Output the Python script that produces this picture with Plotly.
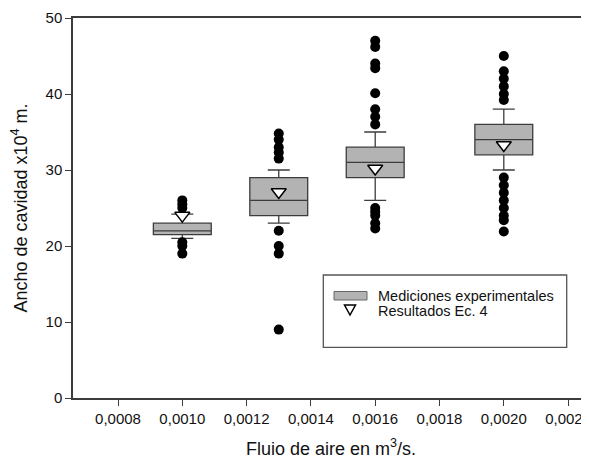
import plotly.graph_objects as go

# ---- data ----
categories = [0.0010, 0.0013, 0.0016, 0.0020]
q1 = [21.5, 24, 29, 32]
median = [22, 26, 31, 34]
q3 = [23, 29, 33, 36]
lower_whisker = [21, 23, 26, 30]
upper_whisker = [24.2, 30, 35, 38]
ec4 = [24.0, 27.1, 30.2, 33.3]
outliers = [
    [26, 25.5, 25, 20.5, 20, 19],
    [34.8, 34, 33, 32.3, 31.5, 22, 20, 19, 9],
    [47, 46.2, 44, 43.4, 40.1, 38, 37, 36, 25, 24.5, 24, 23, 22.3],
    [45, 43, 42, 41, 40, 39.2, 29, 28, 27, 26, 25, 24, 23.4, 21.9],
]
x_ticks = [0.0008, 0.0010, 0.0012, 0.0014, 0.0016, 0.0018, 0.0020, 0.0022]
y_ticks = [0, 10, 20, 30, 40, 50]
legend_labels = ["Mediciones experimentales", "Resultados Ec. 4"]

FONT = "Liberation Sans, Arial, sans-serif"
TXT = "#111111"
LINE = "#3c3c3c"
BOXFILL = "#b3b3b3"

out_x = [c for c, vals in zip(categories, outliers) for _ in vals]
out_y = [v for vals in outliers for v in vals]

fig = go.Figure()
fig.add_trace(go.Box(
    x=categories, q1=q1, median=median, q3=q3,
    lowerfence=lower_whisker, upperfence=upper_whisker,
    orientation="v", width=0.00018, whiskerwidth=0.38,
    fillcolor=BOXFILL, line=dict(color=LINE, width=1.3),
    boxpoints=False, showlegend=False, name=legend_labels[0],
))
fig.add_trace(go.Scatter(
    x=out_x, y=out_y, mode="markers",
    marker=dict(symbol="circle", size=10, color="black", line=dict(width=0)),
    showlegend=False, name="outliers",
))
fig.add_trace(go.Scatter(
    x=categories, y=ec4, mode="markers",
    marker=dict(symbol="triangle-down", size=13, color="white",
                line=dict(color="black", width=1.5)),
    showlegend=False, name=legend_labels[1],
))

# page body has an 8px margin, so the figure is drawn 8px smaller and
# all positions below are given in window pixels
OFF = 8
L, R, T, B = 73, 589, 18, 398
W, H = 589 - OFF, 459 - OFF


def px(xp):
    return (xp - L) / (R - L)


def py(yp):
    return (B - yp) / (B - T)


shapes = [
    dict(type="rect", xref="paper", yref="paper",
         x0=px(323.3), x1=px(566.7), y0=py(347.3), y1=py(275),
         line=dict(color="#555555", width=1.3), fillcolor="white", layer="above"),
    dict(type="rect", xref="paper", yref="paper",
         x0=px(334), x1=px(367), y0=py(300), y1=py(291.5),
         line=dict(color="#666666", width=1), fillcolor=BOXFILL, layer="above"),
    dict(type="path", xref="paper", yref="paper",
         path=f"M {px(344.5)},{py(305)} L {px(355.5)},{py(305)} L {px(350)},{py(315)} Z",
         line=dict(color="black", width=1.5), fillcolor="white", layer="above"),
]
annotations = [
    dict(xref="paper", yref="paper", x=px(376), y=py(295.5), xanchor="left",
         yanchor="middle", text=legend_labels[0], showarrow=False,
         font=dict(family=FONT, size=14.5, color=TXT)),
    dict(xref="paper", yref="paper", x=px(376), y=py(310.5), xanchor="left",
         yanchor="middle", text=legend_labels[1], showarrow=False,
         font=dict(family=FONT, size=14.5, color=TXT)),
]

fig.update_layout(
    width=W, height=H,
    margin=dict(l=L - OFF, r=0, t=T - OFF, b=H - (B - OFF), autoexpand=False),
    paper_bgcolor="white", plot_bgcolor="white",
    separators=",.",
    font=dict(family=FONT, color=TXT, size=15),
    showlegend=False,
    shapes=shapes, annotations=annotations,
    xaxis=dict(
        range=[0.00066, 0.002265], tickvals=x_ticks, tickformat=".4f",
        showgrid=False, zeroline=False, showline=True, linecolor=LINE,
        linewidth=1.5, mirror=True, ticks="outside", ticklen=6,
        tickwidth=1.2, tickcolor=LINE, tickfont=dict(size=15),
        ticklabeloverflow="allow",
        title=dict(text="Fluio de aire en m<sup>3</sup>/s.",
                   font=dict(size=18), standoff=18),
        automargin=False,
    ),
    yaxis=dict(
        range=[0, 50], tickvals=y_ticks,
        showgrid=False, zeroline=False, showline=True, linecolor=LINE,
        linewidth=1.5, ticks="outside", ticklen=6, tickwidth=1.2,
        tickcolor=LINE, tickfont=dict(size=15),
        title=dict(text="Ancho de cavidad x10<sup>4</sup> m.",
                   font=dict(size=18), standoff=14),
        automargin=False,
    ),
)

fig.write_html("out.html")
